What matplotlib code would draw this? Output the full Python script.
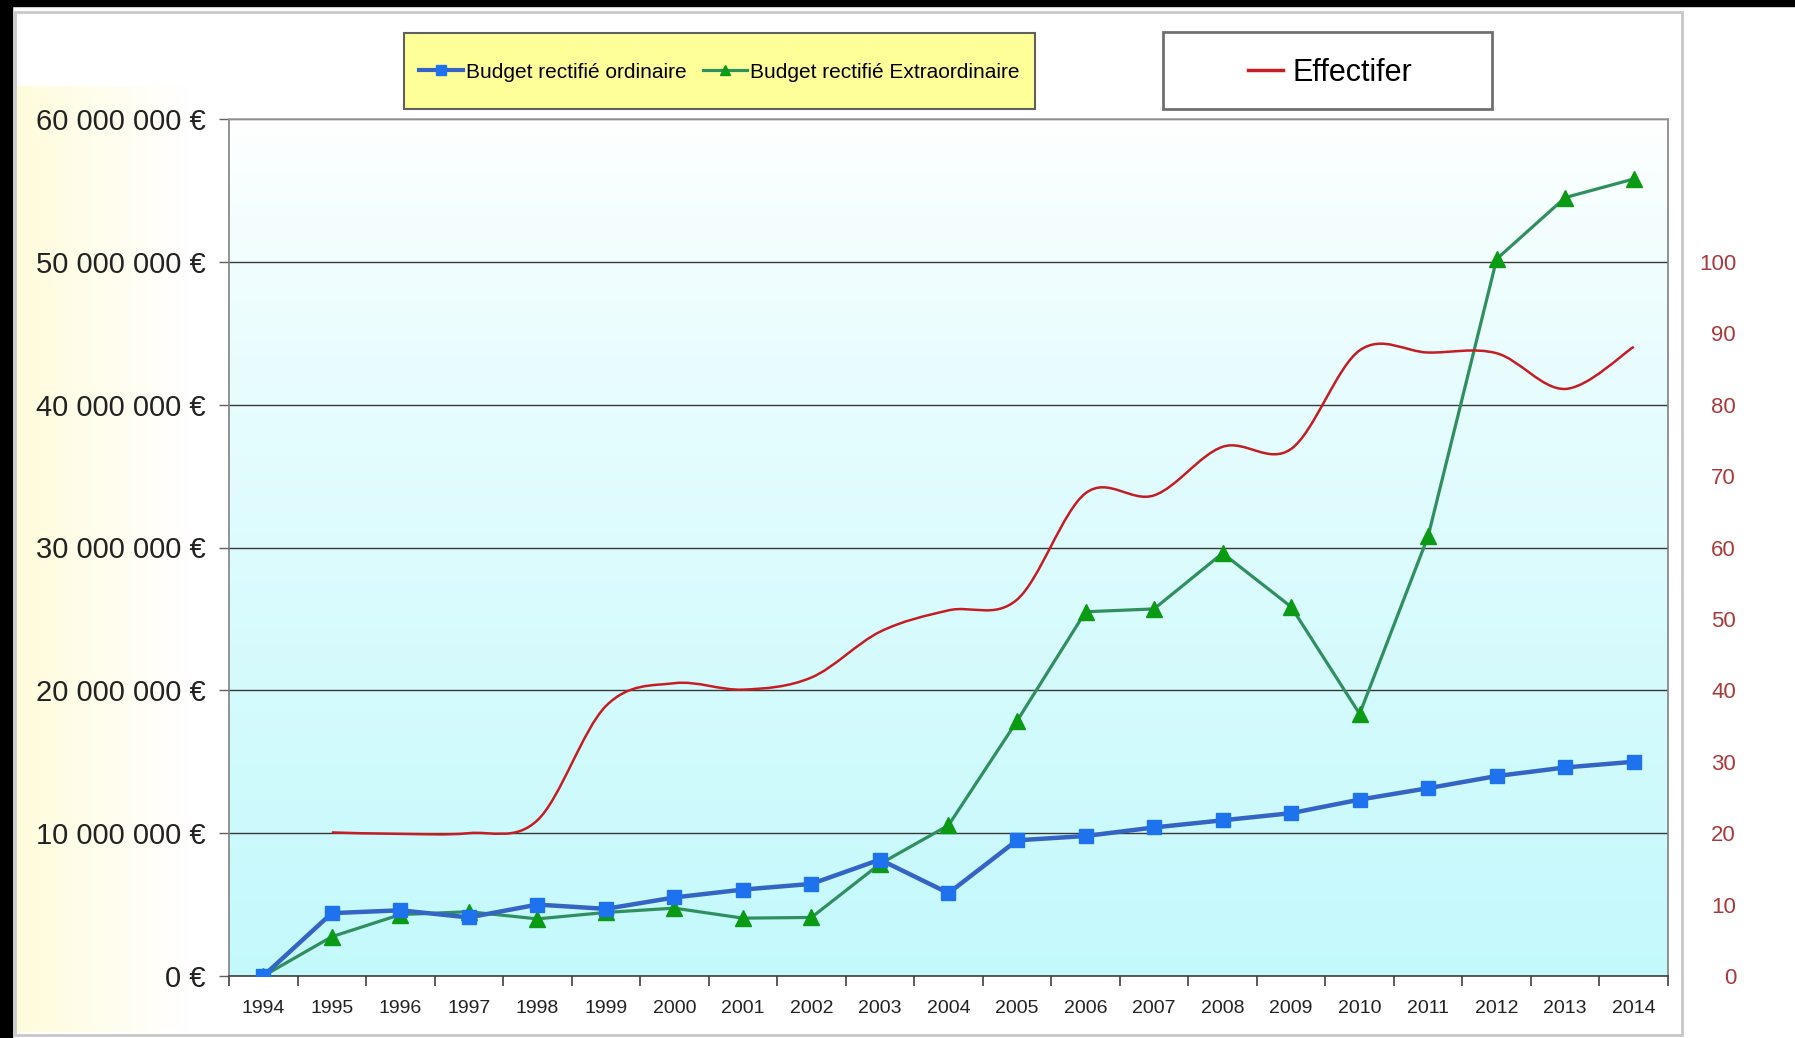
import numpy as np
import matplotlib.pyplot as plt
from matplotlib.path import Path
from matplotlib.patches import PathPatch, Rectangle
from matplotlib.lines import Line2D
from matplotlib.colors import to_rgb

plt.rcParams['font.family'] = ['Liberation Sans', 'DejaVu Sans']

# data
years = list(range(1994, 2015))
# budgets in millions of euros
ordinaire = [0.0, 4.4, 4.6, 4.1, 5.0, 4.7, 5.5, 6.05, 6.45, 8.15, 5.8,
             9.5, 9.8, 10.4, 10.9, 11.4, 12.35, 13.15, 14.0, 14.6, 15.0]
extraordinaire = [0.0, 2.75, 4.3, 4.5, 4.0, 4.45, 4.75, 4.05, 4.1, 7.85, 10.55,
                  17.85, 25.5, 25.7, 29.6, 25.85, 18.35, 30.8, 50.2, 54.5, 55.8]
# staff count, from 1995 on
effectif_years = years[1:]
effectif = [20.1, 19.9, 20.0, 21.8, 37.8, 41.0, 40.1, 41.8, 48.2, 51.2,
            52.7, 67.6, 67.3, 74.1, 73.8, 87.6, 87.3, 87.2, 82.2, 88.1]

left_ticks = [0, 10e6, 20e6, 30e6, 40e6, 50e6, 60e6]
right_ticks = list(range(0, 101, 10))

blue_line, blue_mk = '#3464c4', '#1f72ee'
green_line, green_mk = '#2f8f5f', '#0a9a14'
red_line = '#c41e24'


def smooth_path(x, y):
    # Excel-like smoothed line: Catmull-Rom turned into cubic Bezier pieces
    pts = np.column_stack([x, y]).astype(float)
    n = len(pts)
    verts = [pts[0]]
    codes = [Path.MOVETO]
    for i in range(n - 1):
        p0 = pts[max(i - 1, 0)]
        p1 = pts[i]
        p2 = pts[i + 1]
        p3 = pts[min(i + 2, n - 1)]
        verts += [p1 + (p2 - p0) / 6, p2 - (p3 - p1) / 6, p2]
        codes += [Path.CURVE4] * 3
    return Path(verts, codes)


W, H = 1795, 1038
fig = plt.figure(figsize=(W / 100, H / 100), dpi=100)
fig.patch.set_facecolor('white')

# background decorations in pixel coordinates
bg = fig.add_axes([0, 0, 1, 1], zorder=-10)
bg.axis('off')

yel = np.linspace(0, 1, 64)[None, :, None]
yel_img = (1 - yel) * np.array(to_rgb('#fffcdc')) + yel * np.array([1, 1, 1])
bg.imshow(yel_img, extent=(16, 190, 1032, 86), aspect='auto', interpolation='bilinear')

grad = (np.linspace(0, 1, 128) ** 0.8)[:, None, None]
plot_img = (1 - grad) * np.array([1, 1, 1]) + grad * np.array(to_rgb('#c4f9fc'))
bg.imshow(plot_img, extent=(229, 1668, 976, 119), aspect='auto', interpolation='bilinear')

bg.add_patch(Rectangle((15, 12), 1667, 1023, fill=False, ec='#c8c8c8', lw=2))
bg.add_patch(Rectangle((0, 0), W, 6, color='black'))
bg.add_patch(Rectangle((0, 0), 12, H, color='black'))
bg.add_patch(Rectangle((404, 33), 631, 76, fc='#ffff99', ec='#606060', lw=1.5))
bg.add_patch(Rectangle((1163, 32), 329, 77, fc='white', ec='#707070', lw=2))
bg.set_xlim(0, W)
bg.set_ylim(H, 0)

ax = fig.add_axes([229 / W, 1 - 976 / H, 1439 / W, 857 / H])
ax.set_facecolor('none')
x = np.arange(len(years))
ax.plot(x, np.array(ordinaire) * 1e6, color=blue_line, lw=3.2, marker='s', ms=10,
        mfc=blue_mk, mec=blue_mk, zorder=4)
ax.plot(x, np.array(extraordinaire) * 1e6, color=green_line, lw=2.3, marker='^', ms=11,
        mfc=green_mk, mec=green_mk, zorder=3)
ax.set_xlim(-0.5, len(years) - 0.5)
ax.set_ylim(0, 60e6)

ax.set_yticks(left_ticks)
ax.set_yticklabels([f"{v:,.0f} €".replace(',', ' ') for v in left_ticks], fontsize=21,
                   color='#222222')
ax.tick_params(axis='y', length=7, width=1, color='#606060', pad=10)
ax.yaxis.grid(True, color='#383838', lw=1.0)
ax.set_axisbelow(True)

ax.set_xticks(np.arange(-0.5, len(years), 1))
ax.set_xticklabels([])
ax.set_xticks(x, minor=True)
ax.set_xticklabels([str(y) for y in years], minor=True, fontsize=14, color='#222222')
ax.tick_params(axis='x', which='major', length=7, width=1.2, color='#404040')
ax.tick_params(axis='x', which='minor', length=0, pad=17.5)

for side, c in [('left', '#808080'), ('right', '#808080'), ('top', '#a0a0a0'), ('bottom', '#404040')]:
    ax.spines[side].set_color(c)
    ax.spines[side].set_linewidth(1.2)

ax2 = ax.twinx()
ax2.set_ylim(0, 120)
ex = np.array([years.index(y) for y in effectif_years])
ax2.add_patch(PathPatch(smooth_path(ex, effectif), fill=False, ec=red_line, lw=1.8, zorder=5))
ax2.set_yticks(right_ticks)
ax2.set_yticklabels([str(v) for v in right_ticks], fontsize=16, color='#a83a3a', ha='right')
ax2.tick_params(axis='y', length=0, pad=49)
for s in ax2.spines.values():
    s.set_visible(False)

h1 = Line2D([], [], color=blue_line, lw=3, marker='s', ms=7, mfc=blue_mk, mec=blue_mk)
h2 = Line2D([], [], color=green_line, lw=2.3, marker='^', ms=7, mfc=green_mk, mec=green_mk)
fig.legend([h1, h2], ['Budget rectifié ordinaire', 'Budget rectifié Extraordinaire'],
           loc='center', bbox_to_anchor=(719.5 / W, 1 - 72 / H), ncol=2, frameon=False,
           fontsize=15, handlelength=2.1, handletextpad=0.15, columnspacing=0.8)
h3 = Line2D([], [], color=red_line, lw=2.5)
fig.legend([h3], ['Effectifer'], loc='center', bbox_to_anchor=(1330 / W, 1 - 73 / H),
           frameon=False, fontsize=22, handlelength=1.15, handletextpad=0.3)

fig.savefig('out.png', dpi=100)
